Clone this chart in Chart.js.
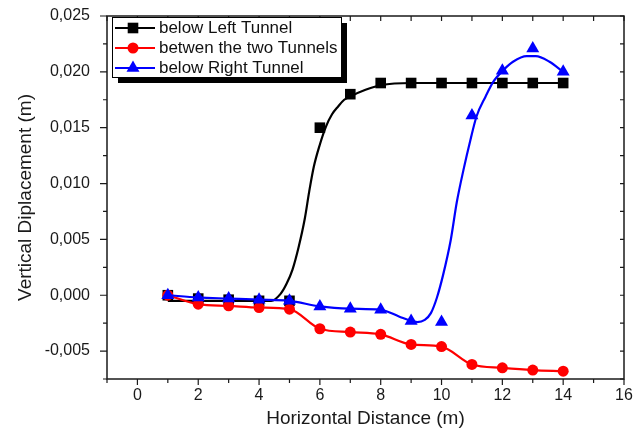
<!DOCTYPE html>
<html>
<head>
<meta charset="utf-8">
<script src="https://cdn.jsdelivr.net/npm/chart.js@4.4.1/dist/chart.umd.min.js"></script>
<style>
html, body { margin: 0; padding: 0; background: #fff; }
#wrap { width: 644px; height: 433px; }
</style>
</head>
<body>
<div id="wrap"><canvas id="chart"></canvas></div>
<script>
// measured points (m)
var distance = [1, 2, 3, 4, 5, 6, 7, 8, 9, 10, 11, 12, 13, 14];
var belowLeftTunnel = [0, -0.0003, -0.0004, -0.0005, -0.0005, 0.015, 0.018, 0.019, 0.019, 0.019, 0.019, 0.019, 0.019, 0.019];
var betweenTunnels = [0, -0.0008, -0.00095, -0.0011, -0.00125, -0.003, -0.0033, -0.0035, -0.0044, -0.0046, -0.0062, -0.0065, -0.0067, -0.0068];
var belowRightTunnel = [0, -0.0002, -0.0003, -0.0004, -0.0005, -0.001, -0.0012, -0.0013, -0.0023, -0.0024, 0.0161, 0.0201, 0.0221, 0.020];

// fitted curves
var leftFitX = [1, 2, 3, 4, 4.4, 4.7, 4.9, 5.1, 5.3, 5.5, 5.65, 5.8, 6.0, 6.2, 6.4, 6.6, 6.8, 7.0, 7.5, 8, 9, 10, 11, 12, 13, 14];
var leftFitY = [-0.0005, -0.0005, -0.0005, -0.0005, -0.0005, 0.0001, 0.001, 0.0023, 0.0043, 0.0068, 0.0093, 0.0115, 0.0135, 0.0151, 0.0162, 0.0169, 0.0175, 0.0178, 0.0184, 0.0188, 0.019, 0.019, 0.019, 0.019, 0.019, 0.019];
var rightFitX = [1, 2, 3, 4, 5, 6, 7, 8, 8.6, 9.0, 9.2, 9.45, 9.65, 9.85, 10.05, 10.3, 10.5, 10.72, 10.95, 11.15, 11.45, 11.7, 12.05, 12.35, 12.8, 13.1, 13.55, 14];
var rightFitY = [0, -0.0002, -0.0003, -0.0004, -0.0005, -0.001, -0.0012, -0.0013, -0.0019, -0.0023, -0.0024, -0.0022, -0.0016, -0.0002, 0.0018, 0.0049, 0.0083, 0.0112, 0.0139, 0.016, 0.0178, 0.0191, 0.0202, 0.0209, 0.0214, 0.0214, 0.0209, 0.020];

var seriesNames = ['below Left Tunnel', 'betwen the two Tunnels', 'below Right Tunnel'];
var seriesColors = ['#000000', '#ff0000', '#0000ff'];
var seriesMarkers = ['rect', 'circle', 'triangle'];
var markerSizes = [7.5, 5.5, 7.5];

var xTitle = 'Horizontal Distance (m)';
var yTitle = 'Vertical Diplacement (m)';

var FONT = '"Liberation Sans", Arial, sans-serif';
Chart.defaults.font.family = FONT;
Chart.defaults.color = '#1a1a1a';

function toPoints(xs, ys) {
    return xs.map(function (x, i) { return {x: x, y: ys[i]}; });
}

// frame with ticks on all four sides
var framePlugin = {
    id: 'frame',
    afterDraw: function (chart) {
        var ctx = chart.ctx, a = chart.chartArea;
        var xs = chart.scales.x, ys = chart.scales.y;
        ctx.save();
        ctx.strokeStyle = '#1a1a1a';
        ctx.lineWidth = 1.5;
        ctx.strokeRect(a.left, a.top, a.right - a.left, a.bottom - a.top);
        ctx.lineWidth = 1.2;
        ctx.beginPath();
        for (var v = -1; v <= 16; v++) {
            var px = xs.getPixelForValue(v);
            var len = (v % 2 === 0) ? 6 : 4;
            ctx.moveTo(px, a.bottom); ctx.lineTo(px, a.bottom + len);
            ctx.moveTo(px, a.top); ctx.lineTo(px, a.top + 5);
        }
        for (var k = -3; k <= 10; k++) {
            var py = ys.getPixelForValue(k * 0.0025);
            var l2 = (k % 2 === 0) ? 7 : 4;
            ctx.moveTo(a.left, py); ctx.lineTo(a.left - l2, py);
            ctx.moveTo(a.right, py); ctx.lineTo(a.right - 4, py);
        }
        ctx.stroke();
        ctx.restore();
    }
};

// boxed legend with drop shadow
var legendPlugin = {
    id: 'boxLegend',
    afterDraw: function (chart) {
        var ctx = chart.ctx;
        var bx = 112, by = 17, bw = 229, bh = 60;
        ctx.save();
        ctx.fillStyle = '#000';
        ctx.fillRect(bx + 6, by + 6, bw, bh);
        ctx.fillStyle = '#fff';
        ctx.fillRect(bx, by, bw, bh);
        ctx.strokeStyle = '#000';
        ctx.lineWidth = 1;
        ctx.strokeRect(bx + 0.5, by + 0.5, bw, bh);
        ctx.font = '16px ' + FONT;
        ctx.textBaseline = 'middle';
        for (var i = 0; i < seriesNames.length; i++) {
            var ry = by + 11 + i * 20;
            ctx.strokeStyle = seriesColors[i];
            ctx.lineWidth = 2;
            ctx.beginPath();
            ctx.moveTo(bx + 3, ry); ctx.lineTo(bx + 43, ry);
            ctx.stroke();
            ctx.fillStyle = seriesColors[i];
            Chart.helpers.drawPoint(ctx, {pointStyle: seriesMarkers[i], radius: markerSizes[i], rotation: 0, borderWidth: 0}, bx + 21, ry);
            ctx.fillStyle = '#111';
            ctx.save();
            ctx.translate(bx + 47, ry + 1);
            ctx.scale(1.06, 1);
            ctx.fillText(seriesNames[i], 0, 0);
            ctx.restore();
        }
        ctx.restore();
    }
};

function markerSet(i, ys, order) {
    return {
        label: seriesNames[i],
        data: toPoints(distance, ys),
        showLine: false,
        pointStyle: seriesMarkers[i],
        pointRadius: markerSizes[i],
        pointBackgroundColor: seriesColors[i],
        pointBorderColor: seriesColors[i],
        pointBorderWidth: 0,
        order: order
    };
}

var datasets = [
    markerSet(2, belowRightTunnel, 0),
    {
        data: toPoints(rightFitX, rightFitY),
        borderColor: seriesColors[2], borderWidth: 2.2,
        pointRadius: 0, cubicInterpolationMode: 'monotone', order: 1
    },
    markerSet(1, betweenTunnels, 2),
    {
        data: toPoints(distance, betweenTunnels),
        borderColor: seriesColors[1], borderWidth: 2.2,
        pointRadius: 0, cubicInterpolationMode: 'monotone', order: 3
    },
    markerSet(0, belowLeftTunnel, 4),
    {
        data: toPoints(leftFitX, leftFitY),
        borderColor: seriesColors[0], borderWidth: 2.2,
        pointRadius: 0, cubicInterpolationMode: 'monotone', order: 5
    }
];

new Chart(document.getElementById('chart'), {
    type: 'line',
    data: {datasets: datasets},
    options: {
        animation: false,
        responsive: true,
        maintainAspectRatio: false,
        layout: {padding: {top: 16, right: 20, left: 0, bottom: 0}},
        plugins: {legend: {display: false}, tooltip: {enabled: false}},
        scales: {
            x: {
                type: 'linear', min: -1, max: 16,
                grid: {display: false, drawTicks: false},
                border: {display: false},
                ticks: {
                    stepSize: 1, autoSkip: false, maxRotation: 0, padding: 7,
                    font: {size: 16}, color: '#1a1a1a',
                    callback: function (v) { return (v >= 0 && v % 2 === 0) ? String(v) : ''; }
                },
                title: {display: true, text: xTitle, font: {size: 19}, color: '#1a1a1a', padding: {top: 0, bottom: 3}},
                afterFit: function (s) { s.height = 54; s.paddingLeft = 0; s.paddingRight = 0; }
            },
            y: {
                type: 'linear', min: -0.0075, max: 0.025,
                grid: {display: false, drawTicks: false},
                border: {display: false},
                ticks: {
                    stepSize: 0.0025, autoSkip: false, padding: 17,
                    font: {size: 16}, color: '#1a1a1a',
                    callback: function (v) {
                        var k = Math.round(v / 0.0025);
                        return (k % 2 === 0) ? (k * 0.0025).toFixed(3).replace('.', ',') : '';
                    }
                },
                title: {display: true, text: yTitle, font: {size: 19}, color: '#1a1a1a', padding: {top: 14, bottom: 0}},
                afterFit: function (s) { s.width = 107; s.paddingTop = 0; s.paddingBottom = 0; }
            }
        }
    },
    plugins: [framePlugin, legendPlugin]
});
</script>
</body>
</html>
